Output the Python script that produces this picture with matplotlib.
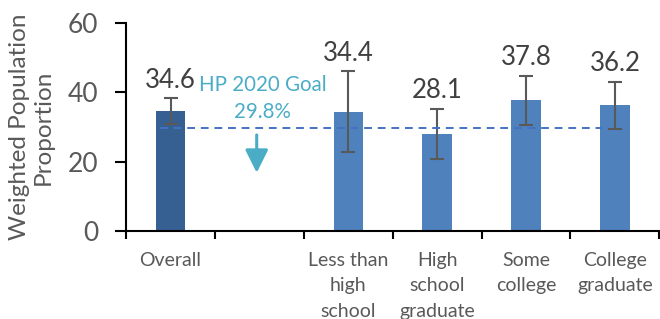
import numpy as np
import matplotlib
matplotlib.use('Agg')
import matplotlib.pyplot as plt

plt.rcParams['font.family'] = ['Lato', 'DejaVu Sans']

categories = ['Overall', '', 'Less than\nhigh\nschool', 'High\nschool\ngraduate', 'Some\ncollege', 'College\ngraduate']
positions = [0, 2, 3, 4, 5]
values = [34.6, 34.4, 28.1, 37.8, 36.2]
err_low = [30.8, 22.7, 20.8, 30.7, 29.5]
err_high = [38.3, 46.1, 35.3, 44.7, 43.1]
bar_colors = ['#376092', '#4F81BD', '#4F81BD', '#4F81BD', '#4F81BD']
goal = 29.8

fig = plt.figure(figsize=(6.6, 3.19), dpi=100)
ax = fig.add_axes([0.191, 0.276, 0.808, 0.652])

vals = np.array(values)
yerr = [vals - np.array(err_low), np.array(err_high) - vals]
ax.bar(positions, values, width=0.33, color=bar_colors, zorder=2)
ax.errorbar(positions, values, yerr=yerr, fmt='none', ecolor='#595959',
            elinewidth=1.5, capsize=5, capthick=1.5, zorder=3)

# valori sopra le barre
for x, v, hi in zip(positions, values, err_high):
    ax.annotate(f'{v:.1f}', (x, hi), xytext=(0, 13), textcoords='offset points',
                ha='center', va='center', fontsize=18.5, color='#404040')

# linea obiettivo
ax.plot([-0.12, 4.85], [goal, goal], ls=(0, (4, 3)), color='#4472C4', lw=1.4, zorder=4)
ax.text(1.04, 42.1, 'HP 2020 Goal', ha='center', va='center', fontsize=14.8, color='#4BACC6')
ax.text(1.04, 34.3, f'{goal}%', ha='center', va='center', fontsize=14.8, color='#4BACC6')
ax.annotate('', xy=(0.97, 16.0), xytext=(0.97, 28.5),
            arrowprops=dict(arrowstyle='-|>,head_width=0.5,head_length=1.0',
                            mutation_scale=14, color='#4BACC6', lw=2.2))

ax.set_xlim(-0.5, 5.5)
ax.set_ylim(0, 60)
ax.set_yticks([0, 20, 40, 60])
ax.set_xticks(range(len(categories)))
ax.set_xticklabels(categories, fontsize=14, color='#595959', linespacing=1.6, va='top')
ax.set_xticks(np.arange(-0.5, 6, 1), minor=True)
ax.tick_params(axis='x', which='major', length=0, pad=15)
ax.tick_params(axis='x', which='minor', length=6, width=1.5, direction='out')
ax.tick_params(axis='y', length=8, width=1.5, labelsize=19, labelcolor='#595959', pad=12)

for s in ['top', 'right']:
    ax.spines[s].set_visible(False)
for s in ['left', 'bottom']:
    ax.spines[s].set_linewidth(1.5)

ax.set_ylabel('Weighted Population\nProportion', fontsize=17.5, color='#595959', linespacing=1.15, labelpad=10)

fig.savefig('out.png', dpi=100)
